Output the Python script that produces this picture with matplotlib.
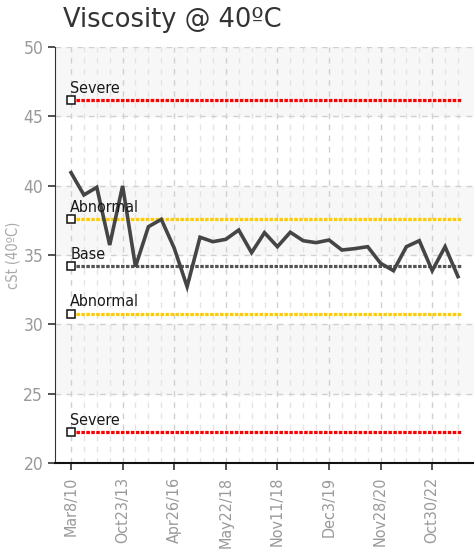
import numpy as np
import matplotlib
matplotlib.use("Agg")
import matplotlib.pyplot as plt
from matplotlib import font_manager

dates = ["Mar8/10", "Oct23/13", "Apr26/16", "May22/18", "Nov11/18",
         "Dec3/19", "Nov28/20", "Oct30/22"]
visc = [40.94, 39.33, 39.88, 35.72, 39.98, 34.16, 37.04, 37.57, 35.5, 32.72,
        36.28, 35.96, 36.13, 36.8, 35.17, 36.61, 35.6, 36.64, 36.03, 35.89,
        36.08, 35.36, 35.46, 35.6, 34.4, 33.87, 35.6, 36.03, 33.87, 35.6, 33.44]
limit_names = ["Severe", "Abnormal", "Base", "Abnormal", "Severe"]
limit_vals = [46.17, 37.62, 34.2, 30.78, 22.23]
limit_cols = ["#ff0000", "#ffcc00", "#555555", "#ffcc00", "#ff0000"]

# look for a condensed face, otherwise fall back
cond = None
for f in font_manager.fontManager.ttflist:
    st = str(f.stretch).lower()
    if ("narrow" in f.name.lower() or "condensed" in f.name.lower()
            or st in ("condensed", "semi-condensed", "extra-condensed")
            or (st.isdigit() and int(st) < 500)):
        if f.style == "normal" and f.weight in (400, "normal", "regular"):
            cond = f.fname
            break
if cond:
    tick_font = dict(fname=cond)
    tsize = 12.5
else:
    tick_font = dict(family="DejaVu Sans")
    tsize = 10.5

def fp(size):
    return font_manager.FontProperties(size=size, **tick_font)

fig = plt.figure(figsize=(4.74, 5.49), dpi=100)
ax = fig.add_axes([55/474, 1-463/549, 1-55/474, (463-47)/549])

n = len(visc)
x = np.arange(n)
ax.set_xlim(-1.24, n - 1 + 1.24)
ax.set_ylim(20, 50)

# alternating bands
for lo in range(25, 50, 10):
    ax.axhspan(lo, lo + 5, color="#f7f7f7", zorder=0)

ax.set_yticks(np.arange(20, 51, 5))
ax.set_xticks(x[::4])
ax.set_xticks(x, minor=True)
ax.set_xticklabels(dates, rotation=90)
ax.grid(True, which="major", axis="both", color="#d0d0d0", linestyle=(0, (4, 4)), lw=1, zorder=1)
ax.grid(True, which="minor", axis="x", color="#e4e4e4", linestyle=(0, (4, 4)), lw=1, zorder=1)
ax.tick_params(which="minor", length=0)
ax.tick_params(which="major", length=5, width=1.2, color="#333333", labelcolor="#999999")
ax.tick_params(axis="x", pad=5)
for lab in ax.get_yticklabels():
    lab.set_fontproperties(fp(tsize))
for lab in ax.get_xticklabels():
    lab.set_fontproperties(fp(tsize - 1))

for s in ["top", "right"]:
    ax.spines[s].set_visible(False)
ax.spines["left"].set_color("#333333")
ax.spines["bottom"].set_color("#111111")
ax.spines["bottom"].set_linewidth(1.5)

for name, val, col in zip(limit_names, limit_vals, limit_cols):
    ax.plot([0, n - 1 + 0.2], [val, val], color=col, lw=2.3,
            linestyle=(0, (1.1, 0.45)), solid_capstyle="butt", zorder=3)
    ax.plot([0], [val], marker="s", ms=5.5, mfc="white", mec="#111111", mew=1.1, zorder=5)
    ax.text(-0.05, val + 0.3, name, color="#1a1a1a", fontproperties=fp(tsize - 1),
            ha="left", va="bottom", zorder=6)

ax.plot(x, visc, color="#454545", lw=2.6, zorder=4, solid_joinstyle="miter")

ax.set_ylabel("cSt (40ºC)", color="#aaaaaa", fontproperties=fp(tsize - 2), labelpad=2)

fig.text(63/474, 1-27/549, "Viscosity @ 40ºC", fontsize=18.5, color="#333333",
         ha="left", va="baseline")

fig.savefig("out.png", dpi=100)
